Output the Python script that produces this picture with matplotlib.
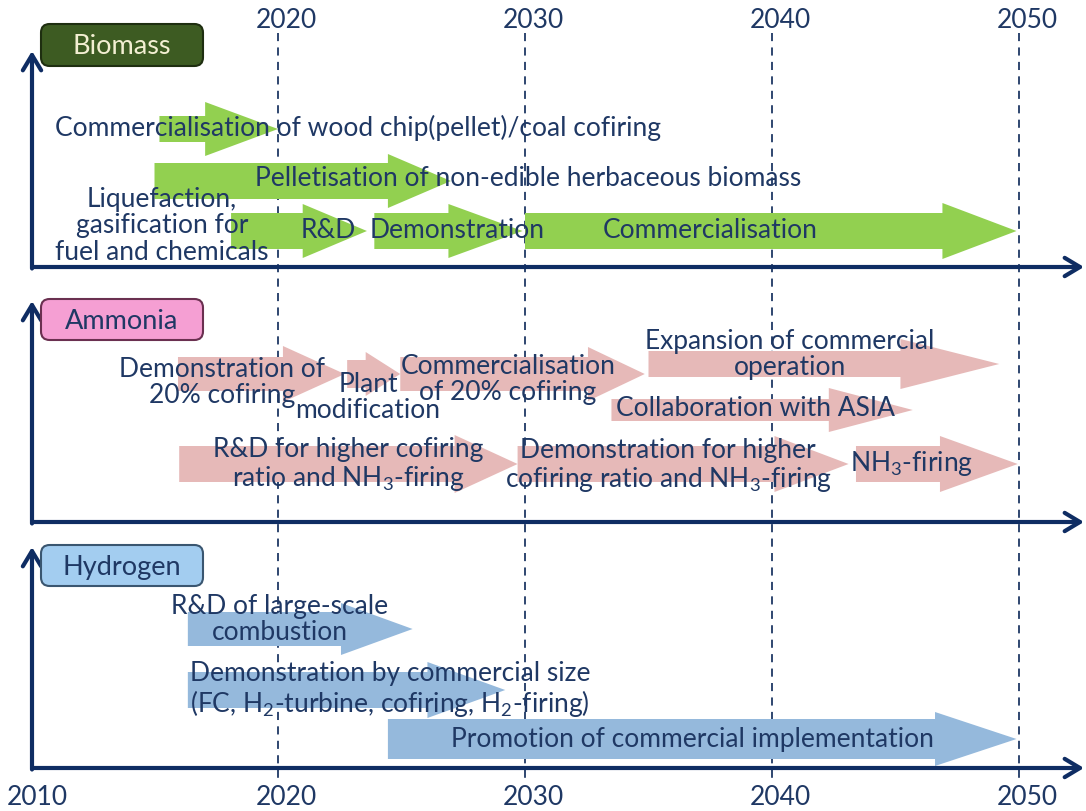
"""
roadmap of biomass / ammonia / hydrogen cofiring - redrawn with matplotlib
"""

import matplotlib
matplotlib.use("Agg")
import matplotlib.pyplot as plt
from matplotlib.patches import Polygon, FancyBboxPatch, FancyArrowPatch

plt.rcParams["font.family"] = ["Lato", "DejaVu Sans"]
plt.rcParams["mathtext.fontset"] = "custom"
plt.rcParams["mathtext.rm"] = "Lato"
plt.rcParams["mathtext.it"] = "Lato"
plt.rcParams["mathtext.default"] = "regular"

# ---- data: years on the time axis ----
year_ticks = [2020, 2030, 2040, 2050]
bottom_labels = ["2010", "2020", "2030", "2040", "2050"]

panels = ["Biomass", "Ammonia", "Hydrogen"]

# biomass arrows (start year, end year)
biomass_start = [2015.2, 2015.0, 2018.1, 2023.9, 2030.0]
biomass_end = [2020.0, 2027.0, 2023.6, 2029.9, 2049.9]

# ammonia arrows
ammonia_start = [2015.95, 2022.8, 2024.95, 2035.0, 2033.5, 2016.0, 2029.7, 2043.4]
ammonia_end = [2022.7, 2024.95, 2034.85, 2049.2, 2045.7, 2029.7, 2043.1, 2049.95]

# hydrogen arrows
hydrogen_start = [2016.35, 2016.35, 2024.45]
hydrogen_end = [2025.45, 2029.2, 2049.9]

biomass_texts = [
    "Commercialisation of wood chip(pellet)/coal cofiring",
    "Pelletisation of non-edible herbaceous biomass",
    "Liquefaction,\ngasification for\nfuel and chemicals",
    "R&D",
    "Demonstration",
    "Commercialisation",
]
ammonia_texts = [
    "Demonstration of\n20% cofiring",
    "Plant\nmodification",
    "Commercialisation\nof 20% cofiring",
    "Expansion of commercial\noperation",
    "Collaboration with ASIA",
    "R&D for higher cofiring\nratio and NH$_3$-firing",
    "Demonstration for higher\ncofiring ratio and NH$_3$-firing",
    "NH$_3$-firing",
]
hydrogen_texts = [
    "R&D of large-scale\ncombustion",
    "Demonstration by commercial size\n(FC, H$_2$-turbine, cofiring, H$_2$-firing)",
    "Promotion of commercial implementation",
]

# ---- layout (pixel rows, head sizes, text anchors) ----
PX_PER_YEAR = 24.7
X2020 = 278
W, H = 1086, 812


def yr(px):
    return 2020 + (px - X2020) / PX_PER_YEAR


# y centre, body half height, head half height, head length (years)
biomass_geom = [(130, 13, 27, 2.95), (182, 18, 27, 2.55), (232, 18, 27, 2.6),
                (232, 18, 27, 3.0), (232, 18, 28, 3.0)]
ammonia_geom = [(375, 17, 28, 2.5), (375, 14, 22, 1.4), (375, 17, 27, 2.3),
                (365, 13, 25, 4.0), (411, 11, 22, 3.4), (465, 18, 29, 2.55),
                (465, 18, 28, 3.0), (465, 18, 28, 3.15)]
hydrogen_geom = [(630, 17, 26, 2.9), (691, 18, 28, 3.15), (740, 20, 27, 3.3)]

biomass_text_pos = [(yr(55), 128, "left"), (yr(528), 178, "center"),
                    (yr(162), 226, "center"), (yr(328), 231, "center"),
                    (yr(457), 231, "center"), (yr(710), 230, "center")]
ammonia_text_pos = [(yr(222), 383, "center"), (yr(368), 398, "center"),
                    (yr(508), 380, "center"), (yr(790), 355, "center"),
                    (yr(755), 409, "center"), (yr(348), 465, "center"),
                    (yr(668), 466, "center"), (yr(912), 464, "center")]
hydrogen_text_pos = [(yr(280), 620, "center"), (yr(390), 690, "center"),
                     (yr(692), 740, "center")]

GREEN = "#92d050"
PINK = "#e6b9b8"
BLUE = "#95b9dc"
NAVY = "#0f2d63"
TEXT = "#1f3864"

# panel baselines / tops in pixels, label box colours
panel_base = [268, 523, 769]
panel_top = [52, 302, 548]
box_y = [(25, 67), (300, 341), (546, 587)]
box_fill = ["#3d5b22", "#f59fd3", "#a3cdf0"]
box_text = ["#f3efd2", TEXT, TEXT]
box_edge = ["#1e2e10", "#6a3050", "#3a5670"]

FONT = 19


def draw_arrow(ax, x0, x1, geom, color):
    yc, bh, hh, hl = geom
    xb = x1 - hl
    pts = [(x0, yc - bh), (xb, yc - bh), (xb, yc - hh), (x1, yc),
           (xb, yc + hh), (xb, yc + bh), (x0, yc + bh)]
    ax.add_patch(Polygon(pts, closed=True, facecolor=color, edgecolor="none", zorder=2))


fig = plt.figure(figsize=(W / 100, H / 100), dpi=100)
ax = fig.add_axes([0, 0, 1, 1])
ax.set_xlim(yr(0), yr(W))
ax.set_ylim(H, 0)
ax.axis("off")

# dashed year lines
for y in year_ticks:
    ax.plot([y, y], [34, 782], color=TEXT, lw=1.3, ls=(0, (4.5, 3.5)), zorder=1)
    ax.text(y + 8 / PX_PER_YEAR, 20, str(y), ha="center", va="center",
            fontsize=19, color=TEXT)

for lab in bottom_labels:
    x = int(lab)
    off = 6 if x == 2010 else 8
    ax.text(x + off / PX_PER_YEAR, 798, lab, ha="center", va="center",
            fontsize=19, color=TEXT)

# panel axes and name boxes
x_axis0 = yr(32)
for i, name in enumerate(panels):
    ax.add_patch(FancyArrowPatch((x_axis0, panel_base[i]), (yr(1084), panel_base[i]),
                                 arrowstyle="->,head_length=0.5,head_width=0.3",
                                 mutation_scale=22, lw=3, color=NAVY, zorder=5,
                                 shrinkA=0, shrinkB=0))
    ax.add_patch(FancyArrowPatch((x_axis0, panel_base[i] + 1.5), (x_axis0, panel_top[i]),
                                 arrowstyle="->,head_length=0.5,head_width=0.3",
                                 mutation_scale=22, lw=3, color=NAVY, zorder=5,
                                 shrinkA=0, shrinkB=0))
    y0, y1 = box_y[i]
    ax.add_patch(FancyBboxPatch((yr(41), y0), yr(203) - yr(41), y1 - y0,
                                boxstyle="round,pad=0,rounding_size=0.35",
                                mutation_aspect=24.7,
                                facecolor=box_fill[i], edgecolor=box_edge[i],
                                lw=1.5, zorder=6))
    ax.text(yr(122), (y0 + y1) / 2 + 1, name, ha="center", va="center",
            fontsize=19.5, color=box_text[i], zorder=7)

groups = [
    (biomass_start, biomass_end, biomass_geom, GREEN, biomass_texts, biomass_text_pos),
    (ammonia_start, ammonia_end, ammonia_geom, PINK, ammonia_texts, ammonia_text_pos),
    (hydrogen_start, hydrogen_end, hydrogen_geom, BLUE, hydrogen_texts, hydrogen_text_pos),
]
for starts, ends, geoms, col, texts, tpos in groups:
    for s, e, g in zip(starts, ends, geoms):
        draw_arrow(ax, s, e, g, col)
    for t, (tx, ty, ha) in zip(texts, tpos):
        ax.text(tx, ty, t, ha=ha, va="center", multialignment="center",
                fontsize=FONT, color=TEXT, zorder=4, linespacing=1.05)

fig.savefig("out.png", dpi=100)
